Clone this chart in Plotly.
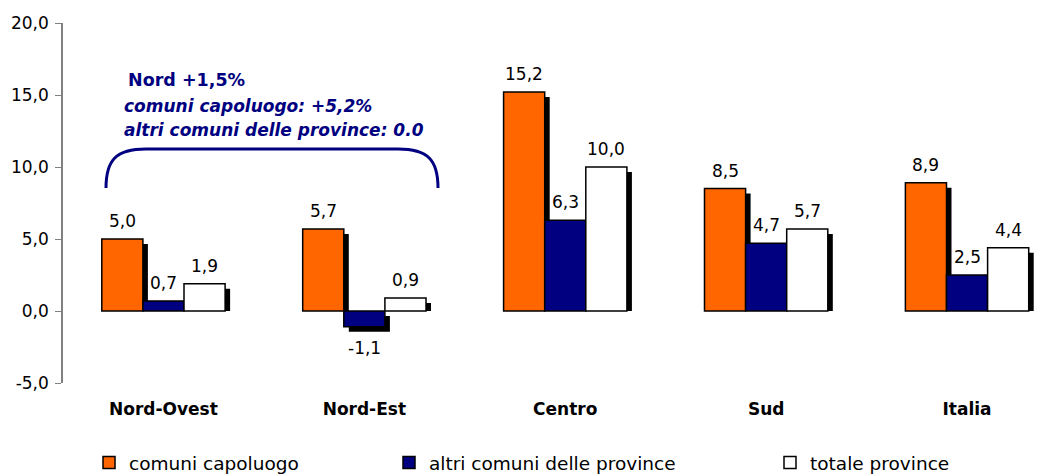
import plotly.graph_objects as go

categories = ["Nord-Ovest", "Nord-Est", "Centro", "Sud", "Italia"]
series_names = ["comuni capoluogo", "altri comuni delle province", "totale province"]
capoluogo = [5.0, 5.7, 15.2, 8.5, 8.9]
altri = [0.7, -1.1, 6.3, 4.7, 2.5]
totale = [1.9, 0.9, 10.0, 5.7, 4.4]
y_ticks = [-5, 0, 5, 10, 15, 20]
note_lines = ["Nord +1,5%", "comuni capoluogo: +5,2%", "altri comuni delle province: 0.0"]

colors = ["#FF6600", "#000080", "#FFFFFF"]
NAVY = "#000080"
FONT = "DejaVu Sans"

W, H = 1059, 474
ML, MR, MT, MB = 63, 0, 23, 91
PW, PH = W - ML - MR, H - MT - MB
YMIN, YMAX = -5, 20
UNIT_PX = 200.9
XMIN = -0.5
XMAX = XMIN + PW / UNIT_PX


def px(x):
    return (x - ML) / PW


def py(y):
    return (H - MB - y) / PH


def fmt(v):
    return f"{v:.1f}".replace(".", ",")


bar_w = 0.2046
offsets = [-0.3069, -0.1023, 0.1023]
dx = 5 / UNIT_PX
dy = 5 * (YMAX - YMIN) / PH

series = [capoluogo, altri, totale]
xs = list(range(len(categories)))

fig = go.Figure()

# shadows
for k, vals in enumerate(series):
    bases = [(-dy if v < 0 else 0) for v in vals]
    tops = [v - dy for v in vals]
    fig.add_trace(go.Bar(
        x=xs, y=[t - b for t, b in zip(tops, bases)], base=bases,
        width=bar_w, offset=offsets[k] + dx,
        marker=dict(color="black", line=dict(width=0)),
        showlegend=False, hoverinfo="skip",
    ))

legends = ["legend", "legend2", "legend3"]
for k, vals in enumerate(series):
    fig.add_trace(go.Bar(
        x=xs, y=vals, width=bar_w, offset=offsets[k], name=series_names[k],
        marker=dict(color=colors[k], line=dict(color="black", width=1.5)),
        legend=legends[k],
    ))

annotations = []
for k, vals in enumerate(series):
    for i, v in enumerate(vals):
        annotations.append(dict(
            x=i + offsets[k] + bar_w / 2, y=v, xref="x", yref="y",
            text=fmt(v), showarrow=False,
            font=dict(family=FONT, size=17, color="black"),
            xanchor="center", yanchor="bottom" if v >= 0 else "top",
            yshift=6 if v >= 0 else -9,
        ))

note_pos = [(126, 80), (122, 106), (122, 130)]
for j, (line, (nx, ny)) in enumerate(zip(note_lines, note_pos)):
    txt = f"<b>{line}</b>" if j == 0 else f"<b><i>{line}</i></b>"
    annotations.append(dict(
        x=px(nx), y=py(ny), xref="paper", yref="paper", text=txt,
        showarrow=False, xanchor="left", yanchor="middle",
        font=dict(family=FONT, size=17.5 if j == 0 else 17, color=NAVY),
    ))

brace = (f"M {px(106)},{py(188)} C {px(106)},{py(160)} {px(116)},{py(149)} {px(146)},{py(149)} "
         f"L {px(398)},{py(149)} C {px(428)},{py(149)} {px(438)},{py(160)} {px(438)},{py(188)}")

fig.update_layout(
    width=W, height=H, autosize=False,
    margin=dict(l=ML, r=MR, t=MT, b=MB, pad=0),
    plot_bgcolor="white", paper_bgcolor="white",
    barmode="overlay",
    font=dict(family=FONT, size=17, color="black"),
    xaxis=dict(
        range=[XMIN, XMAX], tickvals=xs, ticktext=categories,
        showline=False, ticks="", showgrid=False, zeroline=False,
        tickfont=dict(family=FONT, size=17, color="black", weight="bold"),
        ticklabelstandoff=14,
    ),
    xaxis2=dict(
        overlaying="x", anchor="free", position=(0 - YMIN) / (YMAX - YMIN),
        range=[XMIN, XMAX], tickvals=[i * 0.5 for i in range(10)],
        showticklabels=False, showline=True, linecolor="black", linewidth=1,
        ticks="outside", ticklen=5, tickcolor="#808080", showgrid=False, zeroline=False,
    ),
    yaxis=dict(
        range=[YMIN, YMAX], tickvals=y_ticks, ticktext=[fmt(t) for t in y_ticks],
        showline=True, linecolor="#808080", linewidth=1.5,
        ticks="outside", ticklen=6, tickcolor="#808080",
        showgrid=False, zeroline=False, ticklabelstandoff=3,
        tickfont=dict(family=FONT, size=17, color="black"),
    ),
    shapes=[dict(type="path", xref="paper", yref="paper", path=brace,
                 line=dict(color=NAVY, width=3))],
    annotations=annotations,
)

leg_common = dict(orientation="h", xref="container", yref="container",
                  yanchor="middle", y=(H - 463) / H,
                  xanchor="left", bgcolor="rgba(0,0,0,0)",
                  font=dict(family=FONT, size=18.5, color="black"))
fig.update_layout(
    legend=dict(x=89 / W, **leg_common),
    legend2=dict(x=389 / W, **leg_common),
    legend3=dict(x=770 / W, **leg_common),
)

fig.write_html("out.html")
